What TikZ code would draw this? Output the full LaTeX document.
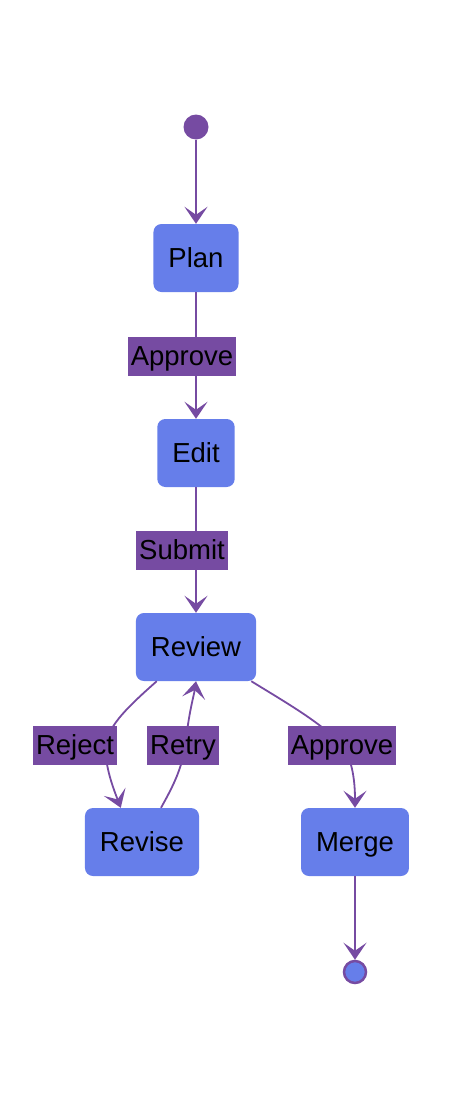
\documentclass[tikz,border=0pt]{standalone}
\usepackage{fontspec}
\setmainfont{Liberation Sans}
\usetikzlibrary{arrows.meta}
\definecolor{boxfill}{HTML}{667EEA}
\definecolor{purp}{HTML}{764BA2}
\begin{document}
\begin{tikzpicture}[x=1pt,y=-1pt,
  statebox/.style={draw=none,fill=boxfill,rounded corners=8pt,inner xsep=15pt,inner ysep=0pt,minimum height=68pt,text height=22pt,text depth=4pt,font=\fontsize{27.5}{32}\selectfont,text=black},
  lbl/.style={fill=purp,inner xsep=3pt,inner ysep=0pt,minimum height=39pt,text height=22pt,text depth=4pt,font=\fontsize{27.5}{32}\selectfont,text=black},
  conn/.style={draw=purp,line width=1.8pt,-{Stealth[length=17pt,width=23pt,inset=8pt]}}
]
\useasboundingbox (0,0) rectangle (458,1100);
\node[circle,fill=purp,minimum size=25pt,inner sep=0pt] (start) at (196,127) {};
\node[statebox] (plan) at (196,258) {Plan};
\node[statebox] (edit) at (196,453) {Edit};
\node[statebox] (review) at (196,647) {Review};
\node[statebox] (revise) at (142,842) {Revise};
\node[statebox] (merge) at (355,842) {Merge};
\node[circle,fill=boxfill,draw=purp,line width=2.5pt,minimum size=22pt,inner sep=0pt] (end) at (355,972) {};

\draw[conn] (start) -- (plan);
\draw[conn] (plan) -- (edit);
\draw[conn] (edit) -- (review);
\draw[conn] ([xshift=21pt]review.south west) .. controls (130,705) and (108,725) .. (106,745) .. controls (104,765) and (114,790) .. ([xshift=36pt]revise.north west);
\draw[conn] ([xshift=19pt]revise.north) .. controls (172,788) and (183,768) .. (186,740) .. controls (189,712) and (194,695) .. (review.south);
\draw[conn] ([xshift=-5pt]review.south east) .. controls (290,705) and (330,728) .. (345,750) .. controls (352,762) and (355,780) .. (merge.north);
\draw[conn] (merge) -- (end);

\node[lbl] (l1) at (182,356) {Approve};
\node[lbl] (l2) at (182,550) {Submit};
\node[lbl] (l3) at (75,745) {Reject};
\node[lbl] (l4) at (183,745) {Retry};
\node[lbl] (l5) at (342,745) {Approve};
\end{tikzpicture}
\end{document}
